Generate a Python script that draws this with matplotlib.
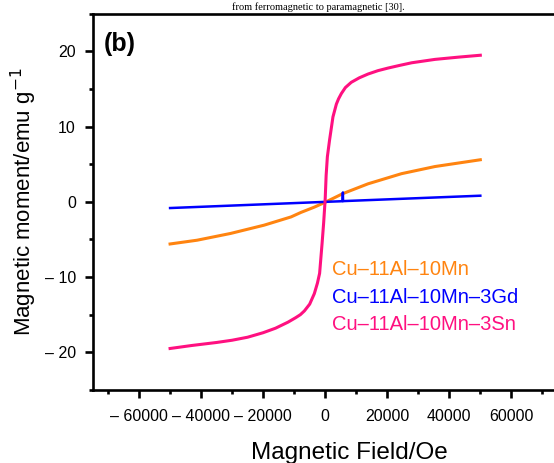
import matplotlib
matplotlib.use("Agg")
import matplotlib.pyplot as plt
from matplotlib.ticker import MultipleLocator, FuncFormatter

# data
field_mn = [-50000, -41300, -30500, -19700, -11000, -7800, -3500, 0,
            5700, 13800, 24600, 35400, 50000]
moment_mn = [-5.6, -5.1, -4.2, -3.1, -2.0, -1.4, -0.7, -0.05,
             1.1, 2.4, 3.75, 4.7, 5.6]

field_gd = [-50000, 0, 5600, 5700, 5750, 50000]
moment_gd = [-0.82, 0.0, 0.09, 1.25, 0.1, 0.82]

field_sn = [-50000, -43000, -35000, -30000, -25000, -20000, -16000, -12000,
            -9500, -8000, -6700, -5000, -3500, -2500, -1800, -1000, -500,
            0, 300, 700, 1400, 2500, 3600, 4300, 5200, 6500, 8400, 11000,
            13800, 17000, 20300, 24000, 27900, 35400, 43000, 50000]
moment_sn = [-19.5, -19.1, -18.7, -18.4, -18.0, -17.4, -16.8, -16.0,
             -15.4, -15.0, -14.5, -13.6, -12.2, -10.8, -9.5, -5.5, -2.8,
             0.4, 3.5, 6.0, 8.2, 11.3, 13.0, 13.7, 14.4, 15.2, 15.9, 16.5,
             17.0, 17.45, 17.8, 18.15, 18.5, 18.95, 19.25, 19.5]

labels = ["Cu\u201311Al\u201310Mn", "Cu\u201311Al\u201310Mn\u20133Gd",
          "Cu\u201311Al\u201310Mn\u20133Sn"]
colors = ["#FF8410", "#0000FF", "#FF1080"]


def dash_fmt(v, pos):
    if v < 0:
        return "\u2013 %d" % abs(v)
    return "%d" % v


def main():
    plt.rcParams["font.family"] = ["Liberation Sans", "DejaVu Sans"]

    fig = plt.figure(figsize=(5.54, 4.63), dpi=100)
    ax = fig.add_axes([0.167, 0.158, 0.840, 0.812])

    ax.plot(field_mn, moment_mn, color=colors[0], lw=2.2, label=labels[0])
    ax.plot(field_gd, moment_gd, color=colors[1], lw=1.8, label=labels[1])
    ax.plot(field_sn, moment_sn, color=colors[2], lw=2.2, label=labels[2])

    ax.set_xlim(-75000, 75000)
    ax.set_ylim(-25, 25)
    ax.xaxis.set_major_locator(MultipleLocator(20000))
    ax.xaxis.set_minor_locator(MultipleLocator(10000))
    ax.yaxis.set_major_locator(MultipleLocator(10))
    ax.yaxis.set_minor_locator(MultipleLocator(5))
    ax.xaxis.set_major_formatter(FuncFormatter(dash_fmt))
    ax.yaxis.set_major_formatter(FuncFormatter(dash_fmt))

    for s in ax.spines.values():
        s.set_linewidth(1.9)
    ax.tick_params(which="major", direction="out", length=6, width=1.9,
                   labelsize=11.5, pad=6)
    ax.tick_params(axis="x", which="major", pad=8)
    ax.tick_params(which="minor", direction="out", length=3.2, width=1.9)
    ax.tick_params(top=False, right=False, which="both")

    ax.set_xlabel("Magnetic Field/Oe", fontsize=17.5)
    ax.set_ylabel("Magnetic moment/emu g$^{-1}$", fontsize=16)
    ax.xaxis.set_label_coords(0.551, -0.167)
    ax.yaxis.set_label_coords(-0.148, 0.5)
    ax.xaxis.label.set_va("center")
    ax.yaxis.label.set_va("center")

    ax.text(0.025, 0.92, "(b)", transform=ax.transAxes, fontsize=18,
            fontweight="bold", va="center", ha="left")

    leg = ax.legend(loc="upper left", bbox_to_anchor=(0.515, 0.345),
                    frameon=False, handlelength=0, handletextpad=0,
                    labelcolor="linecolor", fontsize=14.5, labelspacing=0.42,
                    borderaxespad=0, borderpad=0)
    for h in leg.legend_handles:
        h.set_visible(False)

    fig.text(405 / 554, 1 - 10 / 463, "from ferromagnetic to paramagnetic [30].",
             family=["Liberation Serif", "DejaVu Serif"], fontsize=7.5,
             ha="right", va="baseline")

    fig.savefig("out.png", dpi=100)
    plt.close(fig)


if __name__ == "__main__":
    main()
